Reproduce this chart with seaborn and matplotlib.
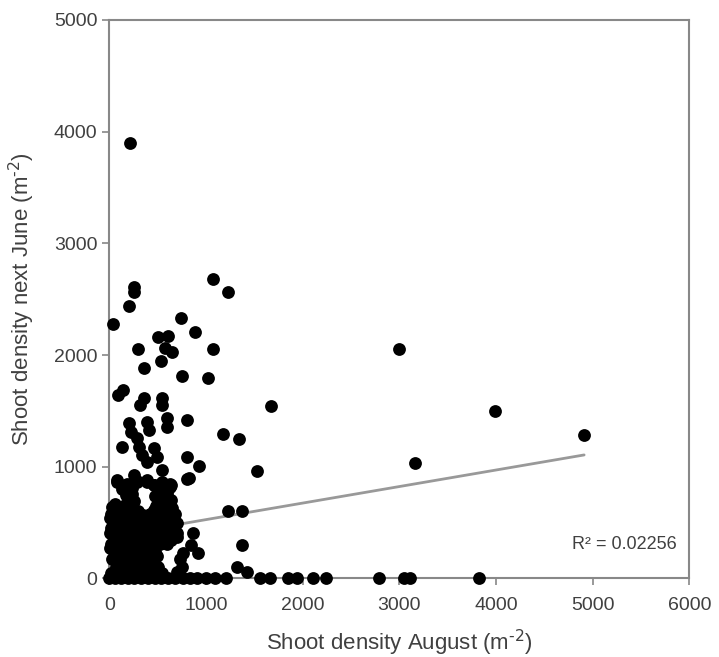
import numpy as np
import pandas as pd
import matplotlib
matplotlib.use("Agg")
import matplotlib.pyplot as plt
import seaborn as sns

# Shoot density in August (x) vs next June (y), m^-2
# scattered points above the dense cluster
upper_x = [214, 259, 259, 1075, 1230, 200, 41, 741, 886, 300, 508, 610, 576, 645,
           1076, 362, 535, 748, 1024, 93, 145, 317, 362, 542, 542, 1672, 204, 221,
           393, 410, 600, 600, 800, 1172, 1344, 1530, 807, 931, 807, 83, 134, 290,
           307, 462, 497, 341, 393, 548, 255, 290, 393, 462, 635, 824, 628,
           1230, 1375, 1375, 862, 842, 914, 697, 3002, 3161, 3988, 4912]
upper_y = [3895, 2612, 2567, 2680, 2561, 2441, 2275, 2329, 2204, 2051, 2164, 2170, 2060, 2030,
           2054, 1881, 1947, 1815, 1797, 1642, 1687, 1553, 1613, 1613, 1553, 1544, 1389, 1314,
           1403, 1329, 1436, 1358, 1419, 1290, 1251, 965, 1085, 1010, 891, 882, 1180, 1254,
           1180, 1165, 1090, 1105, 1045, 971, 926, 866, 882, 837, 837, 897, 822,
           607, 607, 300, 405, 300, 226, 374, 2054, 1031, 1499, 1284]

# dense cluster near the origin
cluster_x = [80, 180, 290, 390, 460, 550, 630,
             170, 230, 470, 540, 600,
             200, 260, 500, 580, 640,
             30, 120, 230, 480, 560, 650,
             20, 90, 180, 270, 350, 420, 510, 600, 680,
             40, 130, 210, 430, 520, 610, 700,
             20, 100, 180, 260, 400, 470, 560, 650,
             50, 140, 230, 320, 410, 500, 590, 670,
             20, 110, 190, 270, 350, 430, 520, 600,
             60, 150, 240, 320, 400, 470,
             30, 110, 200, 280, 370, 450, 730,
             70, 160, 250, 340, 420, 500, 750,
             # in-between points that close the gaps
             130, 240, 520, 610,
             60, 160, 300, 460, 560, 640,
             10, 80, 160, 310, 380, 470, 560, 640,
             90, 220, 300, 350, 440, 530, 620,
             10, 70, 150, 230, 360, 450, 540, 620, 700,
             70, 150, 230, 310, 390, 470, 560, 640,
             10, 100, 190, 280, 360, 440,
             70, 150, 240, 330, 410, 490, 760,
             20, 110, 200, 290, 380, 460, 550, 700]
cluster_y = [860, 850, 870, 860, 840, 860, 850,
             750, 760, 740, 750, 760,
             700, 690, 700, 690, 700,
             640, 630, 640, 650, 640, 630,
             580, 570, 580, 580, 570, 580, 580, 570, 580,
             510, 510, 500, 510, 520, 510, 500,
             450, 450, 440, 450, 450, 440, 450, 450,
             380, 380, 390, 380, 380, 370, 380, 380,
             310, 310, 300, 310, 310, 300, 310, 310,
             240, 240, 230, 240, 240, 240,
             170, 170, 160, 170, 170, 170, 170,
             100, 100, 100, 90, 100, 100, 100,
             800, 810, 800, 800,
             670, 660, 600, 610, 610, 600,
             540, 540, 540, 540, 550, 540, 540, 540,
             480, 480, 470, 480, 480, 480, 480,
             410, 420, 410, 410, 420, 410, 410, 410, 410,
             345, 340, 345, 350, 340, 340, 345, 345,
             275, 275, 270, 270, 275, 275,
             205, 200, 205, 205, 200, 205, 230,
             50, 50, 50, 50, 50, 50, 50, 60]

# points lying on (or just above) zero
zero_x = [0, 60, 120, 190, 260, 330, 400, 470, 540, 610, 680, 760, 830, 904, 1000,
          1093, 1210, 1317, 1421, 1558, 1662, 1848, 1941, 2106, 2240, 2785, 3047,
          3109, 3829]
zero_y = [0, 0, 0, 0, 0, 0, 0, 0, 0, 0, 0, 0, 0, 5, 0,
          5, 5, 100, 60, 0, 0, 0, 0, 0, 0, 0, 0,
          0, 0]

# linear trendline shown in the picture
trend_slope = 0.148
trend_intercept = 379
r_squared = 0.02256

df = pd.DataFrame({
    "august": upper_x + cluster_x + zero_x,
    "june": upper_y + cluster_y + zero_y,
})

sns.set_style("white")
plt.rcParams["font.family"] = ["Liberation Sans", "DejaVu Sans"]

fig = plt.figure(figsize=(7.19, 6.57), dpi=100)
ax = fig.add_axes([0.152, 0.1195, 0.8067, 0.8501])

x_line = np.array([df["august"].min(), df["august"].max()])
ax.plot(x_line, trend_intercept + trend_slope * x_line, color="#999999",
        linewidth=2, zorder=1)

sns.scatterplot(data=df, x="august", y="june", color="black", s=85,
                linewidth=0, ax=ax, zorder=3, clip_on=False)

ax.text(5870, 300, f"R² = {r_squared}", ha="right", va="center",
        fontsize=13, color="#404040")

ax.set_xlim(0, 6000)
ax.set_ylim(0, 5000)
ax.set_xticks(range(0, 6001, 1000))
ax.set_yticks(range(0, 5001, 1000))
ax.set_xlabel(r"Shoot density August (m$^{\text{-2}}$)", fontsize=16,
              color="#404040", labelpad=10)
ax.set_ylabel(r"Shoot density next June (m$^{\text{-2}}$)", fontsize=16,
              color="#404040", labelpad=12)
ax.tick_params(direction="out", length=5, width=1.2, color="#888888",
               labelcolor="#404040", labelsize=14, bottom=True, left=True)
ax.tick_params(axis="x", pad=8)
for sp in ax.spines.values():
    sp.set_color("#888888")
    sp.set_linewidth(1.5)
    sp.set_zorder(2)

fig.savefig("out.png", dpi=100)
